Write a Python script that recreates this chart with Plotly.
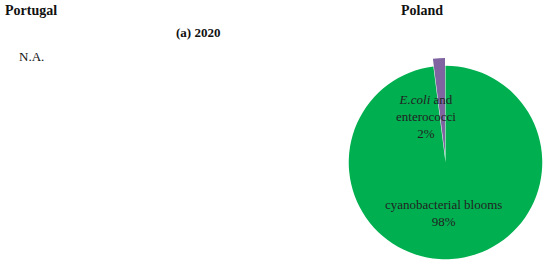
import plotly.graph_objs as go

# Poland, 2020 - share of bathing water issues
labels = ["E.coli and enterococci", "cyanobacterial blooms"]
values = [2, 98]
colors = ["#8064A2", "#00B050"]
label_text = ["<i>E.coli</i> and<br>enterococci<br>2%", "cyanobacterial blooms<br>98%"]

titles = ["Portugal", "Poland"]
subtitle = "(a) 2020"
no_data = "N.A."

FONT = "Liberation Serif"

fig = go.Figure()

# small slice sits just left of 12 o'clock
start = -360 * values[0] / sum(values)

fig.add_trace(go.Pie(
    labels=labels,
    values=values,
    marker=dict(colors=colors, line=dict(width=0)),
    sort=False,
    direction="clockwise",
    rotation=start,
    pull=[0.08, 0],
    textinfo="none",
    hoverinfo="label+percent",
    showlegend=False,
    domain=dict(x=[0.62, 1.0], y=[0.0, 0.783]),
))

# slice labels sit inside the green area, like the original
label_pos = [(0.775, 0.564), (0.807, 0.201)]
for txt, (x, y) in zip(label_text, label_pos):
    fig.add_annotation(text=txt, x=x, y=y, xref="paper", yref="paper",
                       xanchor="center", yanchor="middle",
                       showarrow=False, align="center",
                       font=dict(family=FONT, size=13, color="#222"))

def note(txt, x, y, size, anchor="left"):
    fig.add_annotation(text=txt, x=x, y=y, xref="paper", yref="paper",
                       xanchor=anchor, yanchor="middle", showarrow=False,
                       font=dict(family=FONT, size=size, color="#111"))

note("<b>" + titles[0] + "</b>", 0.006, 0.962, 14)
note("<b>" + titles[1] + "</b>", 0.767, 0.962, 14, "center")
note("<b>" + subtitle + "</b>", 0.36, 0.877, 13, "center")
note(no_data, 0.03, 0.787, 13)

fig.update_layout(width=550, height=267, margin=dict(l=0, r=0, t=0, b=0),
                  paper_bgcolor="white", plot_bgcolor="white")

fig.write_html("out.html", config={"displayModeBar": False},
               post_script="document.body.style.margin='0';")
